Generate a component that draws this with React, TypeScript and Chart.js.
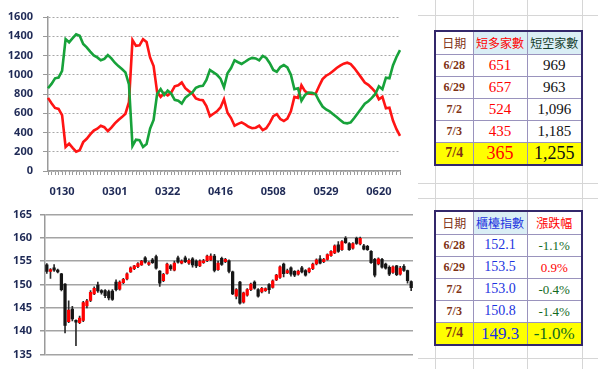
import React, { useEffect, useRef } from 'react';
import { Chart, registerables } from 'chart.js';

Chart.register(...registerables);

// ---- top chart: short-term bullish / bearish stock counts ----
const tickLabels = ['0130', '0301', '0322', '0416', '0508', '0529', '0620'];
const firstTickIndex = 4;
const tickStep = 15;

const bullCount = [
  760, 705, 655, 645, 580, 250, 285, 240, 200, 215,
  300, 335, 380, 420, 440, 470, 455, 415, 450, 495,
  530, 560, 595, 715, 1360, 1300, 1305, 1370, 1340, 1180,
  1090, 820, 770, 810, 785, 815, 880, 890, 920, 860,
  830, 805, 755, 740, 735, 675, 570, 595, 620, 660,
  745, 605, 550, 470, 490, 505, 485, 460, 445, 450,
  470, 425, 445, 500, 570, 590, 540, 520, 545, 620,
  770, 760, 890, 830, 805, 800, 800, 880, 955, 990,
  1010, 1040, 1070, 1095, 1115, 1125, 1110, 1070, 1020, 970,
  920, 895, 860, 820, 745, 770, 651, 657, 524, 435,
  365,
];

const bearCount = [
  860, 905, 963, 970, 1040, 1370, 1337, 1380, 1420, 1405,
  1320, 1285, 1240, 1200, 1180, 1150, 1165, 1205, 1170, 1125,
  1090, 1060, 1025, 900, 260, 325, 320, 250, 280, 440,
  530, 800, 850, 790, 835, 805, 740, 730, 700, 760,
  790, 815, 865, 880, 885, 945, 1050, 1025, 1000, 960,
  870, 1015, 1070, 1150, 1130, 1112, 1135, 1160, 1175, 1170,
  1150, 1195, 1175, 1120, 1050, 1030, 1080, 1100, 1077, 1000,
  850, 860, 730, 790, 815, 812, 800, 730, 670, 640,
  620, 590, 560, 530, 500, 495, 505, 550, 600, 650,
  700, 725, 760, 800, 880, 850, 969, 963, 1096, 1185,
  1255,
];

// ---- bottom chart: OTC index candles ----
const opens = [
  154.2, 152.8, 153.6, 153.1, 152.3, 150.1, 142.0, 144.7, 142.3, 141.8,
  142.3, 145.4, 146.6, 148.0, 149.9, 148.7, 148.7, 148.5, 148.6, 150.5,
  149.0, 150.4, 151.2, 152.7, 153.4, 153.8, 154.2, 155.7, 154.3, 155.3,
  156.0, 152.9, 150.8, 152.4, 154.0, 153.1, 155.7, 154.6, 155.7, 154.6,
  155.5, 155.0, 154.0, 154.7, 155.1, 155.3, 156.1, 153.2, 155.6, 154.9,
  155.1, 152.7, 147.5, 150.5, 146.2, 147.7, 148.9, 150.5, 148.9, 148.4,
  148.7, 150.0, 149.4, 151.0, 151.5, 154.4, 152.5, 153.6, 152.8, 152.2,
  153.6, 153.0, 152.7, 153.4, 154.4, 155.5, 154.9, 155.4, 156.2, 156.8,
  158.5, 157.5, 159.9, 158.8, 157.8, 159.9, 158.7, 158.3, 158.2, 157.1,
  155.4, 154.4, 155.4, 154.4, 153.7, 152.6, 154.0, 152.2, 153.9, 153.0,
  150.6,
];
const highs = [
  154.5, 153.4, 154.3, 153.3, 152.4, 150.2, 146.5, 145.3, 142.4, 143.2,
  146.4, 146.8, 148.7, 149.5, 150.5, 148.9, 148.9, 148.8, 148.9, 151.0,
  150.8, 151.3, 152.5, 153.8, 154.1, 154.7, 155.2, 156.0, 154.9, 155.6,
  156.3, 153.0, 152.4, 154.6, 154.3, 155.0, 156.1, 155.3, 156.1, 155.5,
  155.8, 155.3, 155.3, 155.4, 156.3, 156.6, 156.5, 155.0, 155.9, 155.6,
  155.3, 152.9, 149.1, 150.7, 148.4, 149.1, 150.3, 150.8, 149.1, 149.4,
  149.3, 150.2, 151.0, 152.2, 154.0, 154.6, 153.3, 153.8, 153.0, 153.1,
  153.9, 153.2, 153.6, 154.6, 155.5, 156.2, 155.6, 156.6, 157.3, 158.5,
  159.2, 159.4, 160.3, 159.0, 159.0, 160.2, 160.2, 158.6, 158.4, 157.3,
  155.6, 155.7, 155.6, 154.6, 154.0, 154.0, 154.1, 153.9, 154.3, 153.1,
  150.8,
];
const lows = [
  152.4, 151.3, 152.8, 152.5, 148.6, 139.6, 141.8, 142.2, 136.9, 141.6,
  142.0, 145.0, 146.3, 147.8, 148.3, 147.9, 147.2, 146.7, 146.6, 148.6,
  148.8, 150.2, 151.0, 152.6, 153.2, 153.6, 154.1, 154.6, 154.1, 154.5,
  153.3, 149.6, 150.6, 152.2, 153.0, 152.9, 154.6, 154.4, 154.7, 154.3,
  153.7, 153.6, 153.8, 154.5, 154.9, 155.1, 152.7, 153.0, 154.1, 154.7,
  152.5, 147.8, 146.9, 145.8, 146.0, 147.5, 148.7, 149.0, 147.3, 148.2,
  148.5, 148.1, 149.2, 150.8, 151.3, 151.6, 152.3, 151.8, 151.7, 152.0,
  152.5, 151.8, 152.5, 153.2, 154.2, 154.4, 154.7, 155.2, 156.0, 156.6,
  156.9, 157.3, 158.8, 157.3, 157.6, 158.6, 158.5, 157.4, 157.3, 154.5,
  151.6, 154.2, 153.5, 153.3, 151.9, 152.4, 151.9, 152.0, 152.8, 150.3,
  148.7,
];
const closes = [
  152.8, 153.2, 153.1, 152.7, 148.9, 141.2, 144.5, 142.6, 141.9, 142.8,
  146.1, 146.5, 148.3, 149.2, 148.6, 148.3, 147.6, 147.1, 146.8, 148.9,
  150.5, 151.1, 152.3, 153.6, 154.0, 154.5, 155.0, 154.8, 154.7, 154.7,
  153.5, 150.3, 152.2, 154.4, 153.4, 154.6, 154.8, 155.0, 154.9, 155.2,
  154.2, 154.0, 155.0, 155.1, 156.1, 156.1, 153.0, 154.6, 154.3, 155.4,
  152.8, 148.0, 148.9, 146.0, 148.2, 148.9, 150.1, 149.2, 147.5, 149.2,
  149.1, 148.9, 150.8, 152.0, 153.8, 152.3, 153.0, 152.2, 152.0, 152.9,
  152.7, 152.0, 153.4, 154.4, 155.3, 154.6, 155.4, 156.4, 157.1, 158.3,
  157.1, 159.2, 159.0, 157.5, 158.8, 158.8, 159.9, 157.6, 157.5, 154.7,
  152.0, 155.5, 153.7, 153.5, 152.2, 153.8, 152.1, 153.5, 153.0, 150.8,
  149.3,
];

// ---- tables ----
const tableDates = ['6/28', '6/29', '7/2', '7/3', '7/4'];
const bullTable = ['651', '657', '524', '435', '365'];
const bearTable = ['969', '963', '1,096', '1,185', '1,255'];
const indexTable = ['152.1', '153.5', '153.0', '150.8', '149.3'];
const changeTable = ['-1.1%', '0.9%', '-0.4%', '-1.4%', '-1.0%'];

const xLabels: string[] = Array.from({ length: bullCount.length }, (_, i) => {
  const k = (i - firstTickIndex) / tickStep;
  return Number.isInteger(k) && k >= 0 && k < tickLabels.length ? tickLabels[k] : '';
});

const NAVY = '#1F2A56';
const AXIS_GRAY = '#9A9A9A';
const LABEL_FONT = { family: '"Noto Sans", "Liberation Sans", sans-serif', size: 11, weight: 'bold' as const };

const BROWN = '#7F3316';
const HEAD_BG = '#DAEEF5';
const YELLOW = '#FFFF00';
const SERIF = '"Liberation Serif", "Times New Roman", serif';
const CJK = '"Noto Sans CJK TC", "Noto Sans CJK SC", sans-serif';

type Cell = { text: string; color: string; bg?: string; font?: string; size?: number; bold?: boolean };

function DataTable({ top, header, rows }: { top: number; header: Cell[]; rows: Cell[][] }) {
  const rowH = [23, 22, 22, 22, 22, 23];
  const colW = [38, 54, 55];
  return (
    <table
      style={{
        position: 'absolute', left: 434, top, width: 149, height: 135,
        borderCollapse: 'collapse', tableLayout: 'fixed', border: '2px solid #33286B',
        background: '#fff',
      }}
    >
      <colgroup>
        {colW.map((w, i) => <col key={i} style={{ width: w }} />)}
      </colgroup>
      <tbody>
        {[header, ...rows].map((r, ri) => (
          <tr key={ri} style={{ height: rowH[ri] }}>
            {r.map((c, ci) => (
              <td
                key={ci}
                style={{
                  border: '1px solid #9A93BD', padding: 0, textAlign: 'center',
                  color: c.color, background: c.bg || 'transparent',
                  fontFamily: c.font || SERIF, fontSize: c.size || 14, lineHeight: 1,
                  fontWeight: c.bold ? 'bold' : 'normal',
                  whiteSpace: 'nowrap',
                }}
              >
                {c.text}
              </td>
            ))}
          </tr>
        ))}
      </tbody>
    </table>
  );
}

export default function App() {
  const topRef = useRef<HTMLCanvasElement>(null);
  const botRef = useRef<HTMLCanvasElement>(null);

  useEffect(() => {
    document.body.style.margin = '0';

    const top = new Chart(topRef.current!, {
      type: 'line',
      data: {
        labels: xLabels,
        datasets: [
          { data: bearCount, borderColor: '#17A23A', borderWidth: 2.6, pointRadius: 0, tension: 0 },
          { data: bullCount, borderColor: '#FF1414', borderWidth: 2.6, pointRadius: 0, tension: 0 },
        ],
      },
      options: {
        animation: false,
        responsive: false,
        maintainAspectRatio: false,
        layout: { padding: { top: 17, right: 10, bottom: 0, left: 0 } },
        plugins: { legend: { display: false }, tooltip: { enabled: false } },
        scales: {
          x: {
            type: 'category',
            offset: false,
            grid: { display: true, drawOnChartArea: false, drawTicks: true, tickLength: 4, color: AXIS_GRAY, offset: false },
            border: { display: true, color: AXIS_GRAY, width: 1.5 },
            ticks: { autoSkip: false, maxRotation: 0, minRotation: 0, padding: 10, color: NAVY, font: LABEL_FONT },
            afterFit: (s: any) => { s.height = 29; },
          },
          y: {
            min: 0,
            max: 1600,
            ticks: { stepSize: 200, padding: 10, color: NAVY, font: LABEL_FONT, callback: (v: any) => String(v) },
            grid: { color: '#A8A8A8', lineWidth: 1, tickLength: 5, tickColor: AXIS_GRAY },
            border: { display: true, color: AXIS_GRAY, width: 1.5, dash: [2, 2] },
            afterFit: (s: any) => { s.width = 48; },
          },
        },
      },
    });

    const bodies = opens.map((o, i) => [Math.min(o, closes[i]), Math.max(o, closes[i])]);
    const wicks = lows.map((l, i) => [l, highs[i]]);
    const bodyColors = opens.map((o, i) => (closes[i] >= o ? '#FF0000' : '#151515'));

    const bot = new Chart(botRef.current!, {
      type: 'bar',
      data: {
        labels: xLabels,
        datasets: [
          { data: wicks as any, backgroundColor: '#2A2A2A', barThickness: 1, grouped: false, order: 2 } as any,
          { data: bodies as any, backgroundColor: bodyColors, barThickness: 2.6, grouped: false, order: 1 } as any,
        ],
      },
      options: {
        animation: false,
        responsive: false,
        maintainAspectRatio: false,
        layout: { padding: { top: 12, right: 2, bottom: 11, left: 0 } },
        plugins: { legend: { display: false }, tooltip: { enabled: false } },
        scales: {
          x: { display: false },
          y: {
            min: 135,
            max: 165,
            ticks: { stepSize: 5, padding: 8, color: NAVY, font: LABEL_FONT },
            grid: { color: '#A4A4A4', lineWidth: 1.5, tickLength: 5, tickColor: AXIS_GRAY },
            border: { display: true, color: AXIS_GRAY, width: 1.5 },
            afterFit: (s: any) => { s.width = 45; },
          },
        },
      },
    });

    return () => {
      top.destroy();
      bot.destroy();
    };
  }, []);

  const gridV = [435, 473, 527, 582];
  const gridH = [15, 183, 198, 358];

  const head1: Cell[] = [
    { text: '日期', color: BROWN, font: CJK, size: 12 },
    { text: '短多家數', color: '#FF0000', bg: HEAD_BG, font: CJK, size: 12 },
    { text: '短空家數', color: '#153C2C', bg: HEAD_BG, font: CJK, size: 12 },
  ];
  const rows1: Cell[][] = tableDates.map((d, i) => {
    const last = i === tableDates.length - 1;
    return [
      { text: d, color: BROWN, size: last ? 14 : 12, bold: true, bg: last ? YELLOW : undefined },
      { text: bullTable[i], color: '#FF0000', size: last ? 18 : 15, bg: last ? YELLOW : undefined },
      { text: bearTable[i], color: '#111', size: last ? 18 : 15, bg: last ? YELLOW : undefined },
    ];
  });

  const head2: Cell[] = [
    { text: '日期', color: BROWN, font: CJK, size: 12 },
    { text: '櫃檯指數', color: '#1C34E0', bg: HEAD_BG, font: CJK, size: 12 },
    { text: '漲跌幅', color: '#FF0000', font: CJK, size: 12 },
  ];
  const rows2: Cell[][] = tableDates.map((d, i) => {
    const last = i === tableDates.length - 1;
    const neg = changeTable[i].startsWith('-');
    return [
      { text: d, color: BROWN, size: last ? 14 : 12, bold: true, bg: last ? YELLOW : undefined },
      { text: indexTable[i], color: '#1C34E0', size: last ? 17 : 14, bg: last ? YELLOW : undefined },
      { text: changeTable[i], color: neg ? '#136B1E' : '#FF0000', size: last ? 17 : 13, bg: last ? YELLOW : undefined },
    ];
  });

  return (
    <div style={{ position: 'fixed', left: 0, top: 0, width: 598, height: 369, background: '#fff', overflow: 'hidden' }}>
      {gridV.map((x) => (
        <div key={'v' + x} style={{ position: 'absolute', left: x, top: 0, width: 1, height: 369, background: '#D6D6D6' }} />
      ))}
      {gridH.map((y) => (
        <div key={'h' + y} style={{ position: 'absolute', left: 418, top: y, width: 180, height: 1, background: '#D6D6D6' }} />
      ))}
      <canvas ref={topRef} width={410} height={200} style={{ position: 'absolute', left: 0, top: 0 }} />
      <canvas ref={botRef} width={415} height={169} style={{ position: 'absolute', left: 0, top: 200 }} />
      <DataTable top={30} header={head1} rows={rows1} />
      <DataTable top={210} header={head2} rows={rows2} />
    </div>
  );
}
